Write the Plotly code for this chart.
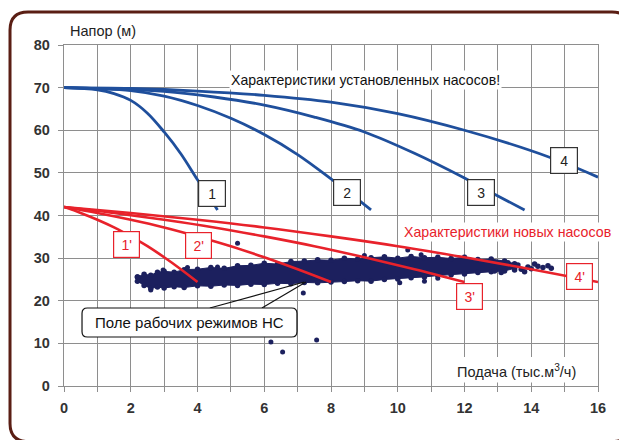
import plotly.graph_objects as go

# ---------------- data ----------------
# installed pumps (blue), head H (m) vs flow Q (thousand m3/h)
q_pump1 = [0, 1, 1.5, 2, 2.5, 3, 3.5, 4, 4.3, 4.6]
h_pump1 = [70, 69.5, 68.6, 67, 64, 59.6, 54.5, 48.4, 45, 41.3]
q_pump2 = [0, 2, 3, 4, 5, 6, 7, 8, 8.6, 9.2]
h_pump2 = [70, 69.3, 68.0, 65.8, 62.8, 59.0, 54.3, 48.6, 45, 41.3]
q_pump3 = [0, 3, 4.5, 6, 7.5, 9, 10.5, 12, 12.9, 13.8]
h_pump3 = [70, 69.1, 67.8, 65.9, 63.1, 59.6, 54.6, 48.8, 45, 41.3]
q_pump4 = [0, 2, 4, 6, 8, 10, 12, 14, 15, 16]
h_pump4 = [70, 69.8, 69.2, 68.2, 66.6, 63.9, 60.0, 55.2, 52.3, 49.0]

# new pumps (red)
q_new1 = [0, 0.5, 1, 1.5, 2, 2.5, 3, 3.5, 4]
h_new1 = [42, 40.6, 39.0, 37.2, 35.1, 32.8, 30.2, 27.4, 24.4]
q_new2 = [0, 1, 2, 3, 4, 5, 6, 7, 8]
h_new2 = [42, 40.6, 39.0, 37.2, 35.1, 32.8, 30.2, 27.4, 24.4]
q_new3 = [0, 1.5, 3, 4.5, 6, 7.5, 9, 10.5, 12]
h_new3 = [42, 40.6, 39.0, 37.2, 35.1, 32.8, 30.2, 27.4, 24.4]
q_new4 = [0, 2, 4, 6, 8, 10, 12, 14, 16]
h_new4 = [42, 40.6, 39.0, 37.2, 35.1, 32.8, 30.2, 27.4, 24.4]

# field of operating points: dense band edges
cloud_x = [2.2, 2.4, 2.6, 2.8, 3.0, 3.3, 3.6, 4.0, 4.4, 4.8, 5.2, 5.6, 6.0, 6.4, 6.8, 7.2,
           7.6, 8.0, 8.4, 8.8, 9.2, 9.6, 10.0, 10.4, 10.8, 11.2, 11.6, 12.0, 12.4, 12.8, 13.2, 13.5]
cloud_top = [25.6, 26.2, 26.0, 26.7, 26.9, 26.7, 27.3, 27.4, 27.8, 27.6, 28.2, 28.3, 28.8, 28.6, 29.2, 29.3,
             29.6, 29.5, 30.0, 29.8, 30.1, 30.3, 30.0, 30.4, 30.1, 30.2, 29.9, 30.2, 29.7, 29.8, 29.3, 28.7]
cloud_bottom = [24.6, 23.6, 22.9, 23.2, 23.0, 23.3, 23.1, 23.5, 23.4, 23.7, 23.6, 23.9, 23.8, 24.1, 24.0, 24.3,
                24.2, 24.4, 24.5, 24.7, 24.6, 25.0, 25.1, 25.4, 25.6, 25.9, 26.1, 26.3, 26.6, 26.8, 27.0, 27.6]
# sparse points at the right end of the band and outliers
tail_x = [13.5, 13.6, 13.7, 13.8, 13.9, 14.0, 14.1, 14.2, 14.35, 14.5, 14.6, 13.3, 13.1, 12.9]
tail_y = [27.2, 28.4, 27.4, 26.8, 27.9, 27.5, 28.6, 28.1, 27.8, 28.2, 27.6, 28.9, 26.6, 27.0]
out_x = [5.2, 6.2, 6.55, 7.57, 7.17, 2.97, 2.6, 10.3, 10.7, 10.06, 10.8, 11.2, 4.6, 9.0, 3.7]
out_y = [33.5, 10.3, 8.0, 10.8, 21.8, 27.2, 22.5, 31.9, 30.8, 24.2, 24.6, 25.3, 27.9, 30.6, 27.8]

x_ticks = [0, 2, 4, 6, 8, 10, 12, 14, 16]
y_ticks = [0, 10, 20, 30, 40, 50, 60, 70, 80]

# ---------------- styles ----------------
FONT = "Liberation Sans, Arial, sans-serif"
BLUE = "#1f4f9c"
RED = "#e8222b"
NAVY = "#1c205e"
GRID = "#8e8e8e"

fig = go.Figure()

# cloud band as filled polygon
poly_x = cloud_x + cloud_x[::-1] + [cloud_x[0]]
poly_y = cloud_top + cloud_bottom[::-1] + [cloud_top[0]]
fig.add_trace(go.Scatter(x=poly_x, y=poly_y, mode="lines+markers", fill="toself",
                         fillcolor=NAVY, line=dict(color=NAVY, width=1),
                         marker=dict(color=NAVY, size=5.5), hoverinfo="skip", showlegend=False))
fig.add_trace(go.Scatter(x=tail_x, y=tail_y, mode="markers",
                         marker=dict(color=NAVY, size=5.5), showlegend=False))
fig.add_trace(go.Scatter(x=out_x, y=out_y, mode="markers",
                         marker=dict(color=NAVY, size=5), showlegend=False))

for q, h in [(q_new1, h_new1), (q_new2, h_new2), (q_new3, h_new3), (q_new4, h_new4)]:
    fig.add_trace(go.Scatter(x=q, y=h, mode="lines", line=dict(color=RED, width=2.6, shape="spline"),
                             showlegend=False))
for q, h in [(q_pump1, h_pump1), (q_pump2, h_pump2), (q_pump3, h_pump3), (q_pump4, h_pump4)]:
    fig.add_trace(go.Scatter(x=q, y=h, mode="lines", line=dict(color=BLUE, width=2.8, shape="spline"),
                             showlegend=False))

# pointer lines from the annotation box to the cloud
fig.add_trace(go.Scatter(x=[4.37, 7.2], y=[18.3, 24.4], mode="lines",
                         line=dict(color="#111", width=1.2), showlegend=False))
fig.add_trace(go.Scatter(x=[5.93, 7.25], y=[18.3, 24.4], mode="lines",
                         line=dict(color="#111", width=1.2), showlegend=False))

shapes = []
# white cover behind the x-axis title (hides grid lines)
shapes.append(dict(type="rect", xref="x", yref="y", x0=11.1, x1=15.95, y0=0.8, y1=6.8,
                   fillcolor="white", line=dict(width=0), layer="between"))
# rounded box for "Поле рабочих режимов НС"
bx0, bx1, by0, by1, rx, ry = 0.54, 6.98, 11.5, 18.3, 0.16, 1.25
shapes.append(dict(type="path", xref="x", yref="y",
                   path=(f"M {bx0+rx},{by1} L {bx1-rx},{by1} Q {bx1},{by1} {bx1},{by1-ry} "
                         f"L {bx1},{by0+ry} Q {bx1},{by0} {bx1-rx},{by0} L {bx0+rx},{by0} "
                         f"Q {bx0},{by0} {bx0},{by0+ry} L {bx0},{by1-ry} Q {bx0},{by1} {bx0+rx},{by1} Z"),
                   fillcolor="white", line=dict(color="#111", width=1.2), layer="above"))
# outer rounded frame (paper coordinates); right and bottom edges fall just outside the picture
L, R, T, B = -0.1011, 1.0600, 1.0968, -0.1630
frx, fry = 0.0337, 0.0528
shapes.append(dict(type="path", xref="paper", yref="paper",
                   path=(f"M {L+frx},{T} L {R-frx},{T} Q {R},{T} {R},{T-fry} "
                         f"L {R},{B+fry} Q {R},{B} {R-frx},{B} L {L+frx},{B} "
                         f"Q {L},{B} {L},{B+fry} L {L},{T-fry} Q {L},{T} {L+frx},{T} Z"),
                   line=dict(color="#5a1e14", width=3), layer="above"))

ann = []
ann.append(dict(xref="paper", yref="paper", x=0.0075, y=1.041, xanchor="left", yanchor="middle",
                text="Напор (м)", showarrow=False, font=dict(family=FONT, size=14.5, color="#222")))
ann.append(dict(xref="x", yref="y", x=9.02, y=71.8, text="Характеристики установленных насосов!",
                showarrow=False, bgcolor="white", font=dict(family=FONT, size=14.1, color="#111")))
ann.append(dict(xref="x", yref="y", x=13.3, y=36.1, text="Характеристики новых насосов",
                showarrow=False, bgcolor="white", font=dict(family=FONT, size=14.2, color=RED)))
ann.append(dict(xref="x", yref="y", x=13.57, y=3.6, text="Подача (тыс.м<sup>3</sup>/ч)",
                showarrow=False, font=dict(family=FONT, size=14.5, color="#222")))
ann.append(dict(xref="x", yref="y", x=3.76, y=14.9, text="Поле рабочих режимов НС",
                showarrow=False, font=dict(family=FONT, size=15, color="#111")))

for txt, x, y in [("1", 4.43, 45.1), ("2", 8.47, 45.3), ("3", 12.5, 45.5), ("4", 14.97, 52.8)]:
    ann.append(dict(xref="x", yref="y", x=x, y=y, text=txt, showarrow=False, width=22, height=21,
                    bgcolor="white", bordercolor="#333", borderwidth=1.2, borderpad=2,
                    font=dict(family=FONT, size=14, color="#222")))
for txt, x, y in [("1'", 1.86, 33.1), ("2'", 4.04, 32.9), ("3'", 12.16, 20.9), ("4'", 15.45, 25.8)]:
    ann.append(dict(xref="x", yref="y", x=x, y=y, text=txt, showarrow=False, width=21, height=21,
                    bgcolor="white", bordercolor=RED, borderwidth=1.2, borderpad=2,
                    font=dict(family=FONT, size=14, color=RED)))

tickfont = dict(family=FONT, size=14.5, color="#333", weight="bold")
# the page body adds an 8 px margin; the figure is sized so the plot area lands at 64..598 x 45..386
fig.update_layout(
    width=619, height=432, autosize=False,
    margin=dict(l=56, r=29, t=37, b=54),
    paper_bgcolor="white", plot_bgcolor="white",
    shapes=shapes, annotations=ann, showlegend=False,
    xaxis=dict(range=[0, 16], tickmode="array", tickvals=x_ticks, ticktext=[str(v) for v in x_ticks],
               showgrid=True, gridcolor=GRID, gridwidth=1.3,
               minor=dict(dtick=1, tick0=0, showgrid=True, gridcolor=GRID, gridwidth=1.3,
                          ticks="outside", ticklen=5, tickcolor=GRID),
               ticks="outside", ticklen=5, tickcolor=GRID, showline=True, linecolor=GRID, linewidth=1.3,
               mirror=True, zeroline=False, tickfont=tickfont, ticklabelstandoff=3, fixedrange=True),
    yaxis=dict(range=[0, 80], tickmode="array", tickvals=y_ticks, ticktext=[str(v) for v in y_ticks],
               showgrid=True, gridcolor=GRID, gridwidth=1.3,
               ticks="outside", ticklen=5, tickcolor=GRID, showline=True, linecolor=GRID, linewidth=1.3,
               mirror=True, zeroline=False, tickfont=tickfont, ticklabelstandoff=5, fixedrange=True),
)

fig.write_html("out.html")
